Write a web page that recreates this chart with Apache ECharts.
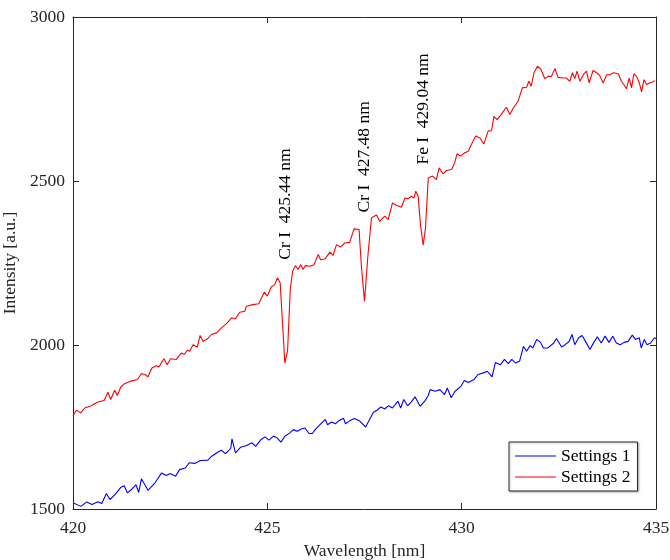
<!DOCTYPE html>
<html>
<head>
<meta charset="utf-8">
<script src="https://cdn.jsdelivr.net/npm/echarts@6/dist/echarts.min.js"></script>
<style>html,body{margin:0;padding:0;background:#fff}#c{width:670px;height:560px}</style>
</head>
<body>
<div id="c"></div>
<script>
// Settings 1 (blue)
const wl1 = [420.00,420.20,420.35,420.49,420.64,420.74,420.86,420.95,421.08,421.23,421.32,421.40,421.52,421.62,421.69,421.76,421.93,422.11,422.28,422.40,422.50,422.64,422.74,422.89,422.99,423.13,423.28,423.47,423.57,423.72,423.82,423.92,423.99,424.06,424.09,424.18,424.31,424.45,424.60,424.70,424.84,424.94,425.04,425.16,425.25,425.35,425.45,425.58,425.67,425.77,425.87,425.97,426.07,426.16,426.23,426.33,426.49,426.55,426.65,426.75,426.85,426.96,427.01,427.11,427.24,427.38,427.53,427.63,427.73,427.82,427.92,428.02,428.12,428.22,428.36,428.43,428.51,428.61,428.70,428.80,428.93,429.05,429.14,429.19,429.32,429.44,429.56,429.63,429.73,429.83,429.98,430.07,430.17,430.32,430.42,430.56,430.66,430.78,430.87,431.00,431.10,431.20,431.29,431.39,431.49,431.59,431.67,431.76,431.83,431.93,432.03,432.10,432.22,432.37,432.44,432.57,432.66,432.76,432.84,432.91,433.01,433.10,433.20,433.30,433.40,433.49,433.59,433.69,433.79,433.89,433.98,434.08,434.18,434.28,434.39,434.47,434.57,434.62,434.70,434.77,434.86,434.96,435.00];
const int1 = [1519,1508,1521,1514,1522,1517,1547,1529,1544,1566,1571,1549,1561,1574,1551,1592,1557,1580,1610,1602,1608,1600,1620,1625,1641,1639,1648,1649,1661,1673,1679,1669,1676,1686,1714,1671,1688,1693,1702,1691,1712,1720,1710,1722,1717,1704,1722,1732,1742,1737,1744,1747,1730,1730,1742,1754,1773,1757,1765,1760,1770,1777,1760,1768,1776,1768,1750,1773,1795,1801,1811,1805,1815,1808,1829,1808,1834,1815,1826,1842,1813,1829,1846,1864,1859,1864,1849,1869,1839,1859,1874,1892,1886,1895,1910,1915,1920,1903,1947,1940,1956,1943,1956,1945,1951,1996,1981,1998,1991,2017,2008,1991,1991,2006,2020,1994,2001,2010,2032,2001,2022,2029,2008,1986,2008,2025,2006,2027,2008,2027,2006,2001,2008,2011,2030,2017,2022,1991,2017,2001,2006,2022,2020];
// Settings 2 (red)
const wl2 = [420.00,420.09,420.20,420.30,420.47,420.64,420.80,420.90,420.97,421.07,421.14,421.23,421.33,421.46,421.66,421.76,421.85,421.93,422.03,422.15,422.21,422.34,422.42,422.51,422.66,422.79,422.86,422.94,423.00,423.09,423.20,423.27,423.35,423.46,423.56,423.69,423.82,423.95,424.08,424.18,424.29,424.42,424.46,424.63,424.78,424.92,425.00,425.10,425.19,425.26,425.33,425.38,425.45,425.52,425.59,425.65,425.72,425.79,425.86,425.92,425.98,426.09,426.20,426.31,426.37,426.48,426.61,426.69,426.78,426.89,426.99,427.12,427.23,427.36,427.42,427.50,427.59,427.68,427.81,427.89,428.02,428.11,428.22,428.32,428.45,428.54,428.62,428.71,428.77,428.82,428.88,428.94,429.01,429.07,429.14,429.25,429.35,429.42,429.52,429.61,429.74,429.82,429.88,429.97,430.08,430.17,430.25,430.36,430.47,430.57,430.68,430.77,430.83,430.91,431.02,431.15,431.24,431.32,431.45,431.56,431.67,431.73,431.79,431.86,431.95,432.04,432.14,432.22,432.31,432.40,432.48,432.61,432.70,432.78,432.85,432.91,432.97,433.04,433.13,433.21,433.28,433.38,433.47,433.55,433.64,433.73,433.81,433.91,434.03,434.11,434.20,434.24,434.31,434.37,434.43,434.50,434.57,434.63,434.69,434.76,434.84,434.91,434.97];
const int2 = [1785,1801,1793,1808,1815,1826,1831,1856,1834,1862,1846,1872,1882,1889,1895,1913,1910,1903,1930,1937,1933,1958,1940,1958,1956,1976,1971,1984,1981,2001,1994,2029,2011,2019,2032,2037,2052,2065,2083,2080,2100,2103,2118,2123,2126,2161,2149,2177,2184,2205,2189,2088,1945,1981,2169,2225,2242,2230,2245,2230,2242,2240,2245,2276,2260,2262,2283,2273,2306,2299,2311,2313,2354,2352,2240,2133,2276,2388,2396,2377,2393,2382,2433,2426,2420,2448,2446,2454,2448,2469,2454,2367,2304,2357,2509,2515,2504,2540,2522,2532,2535,2555,2583,2576,2586,2591,2611,2637,2631,2613,2652,2654,2697,2687,2703,2725,2703,2721,2743,2784,2786,2804,2789,2830,2850,2840,2812,2819,2819,2843,2816,2814,2814,2804,2830,2812,2835,2804,2824,2835,2799,2837,2830,2822,2799,2824,2824,2830,2827,2804,2789,2781,2814,2784,2827,2819,2799,2772,2809,2794,2799,2802,2806];

const seriesNames = ['Settings 1', 'Settings 2'];
const annotationTexts = ['Cr I  425.44 nm', 'Cr I  427.48 nm', 'Fe I  429.04 nm'];
const annotationWl = [425.46, 427.51, 429.01];
const annotationY = [2260, 2404, 2550];

const FONT = 'Liberation Serif';
const FS = 17.5;
const AX = '#262626';

const chart = echarts.init(document.getElementById('c'), null, {renderer: 'canvas'});
const pairs = (xs, ys) => xs.map((x, i) => [x, ys[i]]);

const baseX = {type: 'value', min: 420, max: 435, interval: 5,
  axisLine: {show: true, onZero: false, lineStyle: {color: AX, width: 1}},
  axisTick: {show: true, inside: true, length: 6, lineStyle: {color: AX, width: 1}},
  splitLine: {show: false}};
const baseY = {type: 'value', min: 1500, max: 3000, interval: 500,
  axisLine: {show: true, onZero: false, lineStyle: {color: AX, width: 1}},
  axisTick: {show: true, inside: true, length: 6, lineStyle: {color: AX, width: 1}},
  splitLine: {show: false}};

chart.setOption({
  animation: false,
  backgroundColor: '#fff',
  grid: {left: 73, top: 17, width: 583, height: 492, containLabel: false, outerBoundsMode: 'none'},
  legend: {
    data: seriesNames.map(n => ({name: n, icon: 'rect'})),
    orient: 'vertical', left: 509, top: 442,
    itemWidth: 41, itemHeight: 1.2, itemGap: 3,
    padding: [5, 7, 5, 6],
    borderColor: AX, borderWidth: 1, backgroundColor: '#fff',
    shadowColor: 'rgba(0,0,0,0.25)', shadowBlur: 2, shadowOffsetX: 1, shadowOffsetY: 1,
    textStyle: {fontFamily: FONT, fontSize: FS, color: '#000', lineHeight: 18}
  },
  xAxis: [
    Object.assign({}, baseX, {position: 'bottom',
      axisLabel: {show: true, margin: 10, fontFamily: FONT, fontSize: FS, color: AX,
                  formatter: v => String(v)},
      name: 'Wavelength [nm]', nameLocation: 'middle', nameGap: 33,
      nameTextStyle: {fontFamily: FONT, fontSize: FS, color: AX}}),
    Object.assign({}, baseX, {position: 'top', axisLabel: {show: false}})
  ],
  yAxis: [
    Object.assign({}, baseY, {position: 'left',
      axisLabel: {show: true, margin: 8, fontFamily: FONT, fontSize: FS, color: AX,
                  formatter: v => String(v)},
      name: 'Intensity [a.u.]', nameLocation: 'middle', nameGap: 46, nameRotate: 90,
      nameTextStyle: {fontFamily: FONT, fontSize: FS, color: AX}}),
    Object.assign({}, baseY, {position: 'right', axisLabel: {show: false}})
  ],
  series: [
    {name: seriesNames[0], type: 'line', xAxisIndex: 0, yAxisIndex: 0,
     data: pairs(wl1, int1), symbol: 'none', showSymbol: false,
     lineStyle: {color: '#0000ff', width: 1.1}, itemStyle: {color: '#0000ff'}},
    {name: seriesNames[1], type: 'line', xAxisIndex: 0, yAxisIndex: 0,
     data: pairs(wl2, int2), symbol: 'none', showSymbol: false,
     lineStyle: {color: '#ff0000', width: 1.1}, itemStyle: {color: '#ff0000'},
     markPoint: {
       symbol: 'circle', symbolSize: 0, silent: true,
       label: {show: true, rotate: 90, position: 'inside', align: 'left', verticalAlign: 'middle',
               fontFamily: FONT, fontSize: FS, color: '#000'},
       data: annotationTexts.map((t, i) => ({coord: [annotationWl[i], annotationY[i]], value: t,
             label: {formatter: t}}))
     }}
  ]
});
</script>
</body>
</html>
